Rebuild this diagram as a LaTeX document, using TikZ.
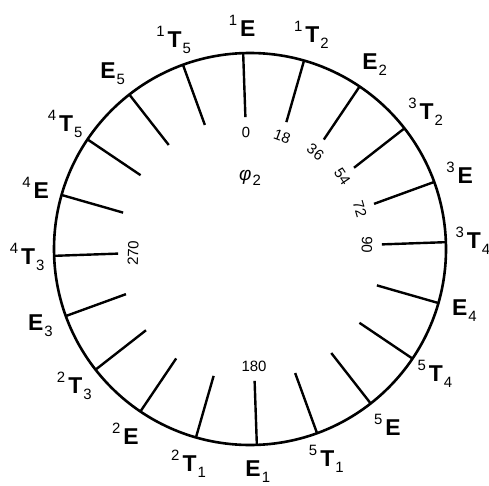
\documentclass[tikz,border=0pt]{standalone}
\usepackage{fontspec}
\setmainfont{Liberation Sans}
\usetikzlibrary{calc}
\newcommand\Up[1]{\raisebox{11bp}{\fontsize{15}{15}\selectfont\mdseries #1}\kern3bp}
\newcommand\Dn[1]{\kern1bp\raisebox{-6bp}{\fontsize{15}{15}\selectfont\mdseries #1}}
\tikzset{
  rim/.style={line width=2.6bp},
  tick/.style={line width=2.4bp},
  deg/.style={font=\fontsize{15}{15}\selectfont, inner sep=0pt},
  term/.style={font=\fontsize{23}{23}\selectfont\bfseries, inner sep=0pt},
}
\begin{document}
\begin{tikzpicture}[x=1bp,y=-1bp]
\useasboundingbox (0,0) rectangle (489,486);
\coordinate (O) at (250,249);
\draw[rim] (O) circle (196);
\foreach \p in {0,18,...,342}{
  \pgfmathsetmacro\th{\p-92}
  \coordinate (to\p) at ($(O)+(\th:196)$);
  \coordinate (ti\p) at ($(O)+(\th:132)$);
  \draw[tick] (to\p) -- (ti\p);
}
\foreach \p/\r in {0/-2,18/-20,36/-38,54/-56,72/-74,90/-92,180/0,270/88}{
  \pgfmathsetmacro\th{\p-92}
  \node[deg, rotate=\r] (d\p) at ($(O)+(\th:117)$) {\p};
}
\node[inner sep=0pt] (phi) at (250,178)
  {{\fontsize{19}{19}\selectfont\itshape φ}\kern1bp\raisebox{-5bp}{\fontsize{15}{15}\selectfont 2}};
\foreach \p/\t [count=\k] in {
  0/{\Up{1}E},
  18/{\Up{1}T\Dn{2}},
  36/{E\Dn{2}},
  54/{\Up{3}T\Dn{2}},
  72/{\Up{3}E},
  90/{\Up{3}T\Dn{4}},
  108/{E\Dn{4}},
  126/{\Up{5}T\Dn{4}},
  144/{\Up{5}E},
  162/{\Up{5}T\Dn{1}},
  180/{E\Dn{1}},
  198/{\Up{2}T\Dn{1}},
  216/{\Up{2}E},
  234/{\Up{2}T\Dn{3}},
  252/{E\Dn{3}},
  270/{\Up{4}T\Dn{3}},
  288/{\Up{4}E},
  306/{\Up{4}T\Dn{5}},
  324/{E\Dn{5}},
  342/{\Up{1}T\Dn{5}}}{
  \pgfmathsetmacro\th{\p-92}
  \node[term] (L\k) at ($(O)+(\th:223)$) {\t};
}
\end{tikzpicture}
\end{document}
